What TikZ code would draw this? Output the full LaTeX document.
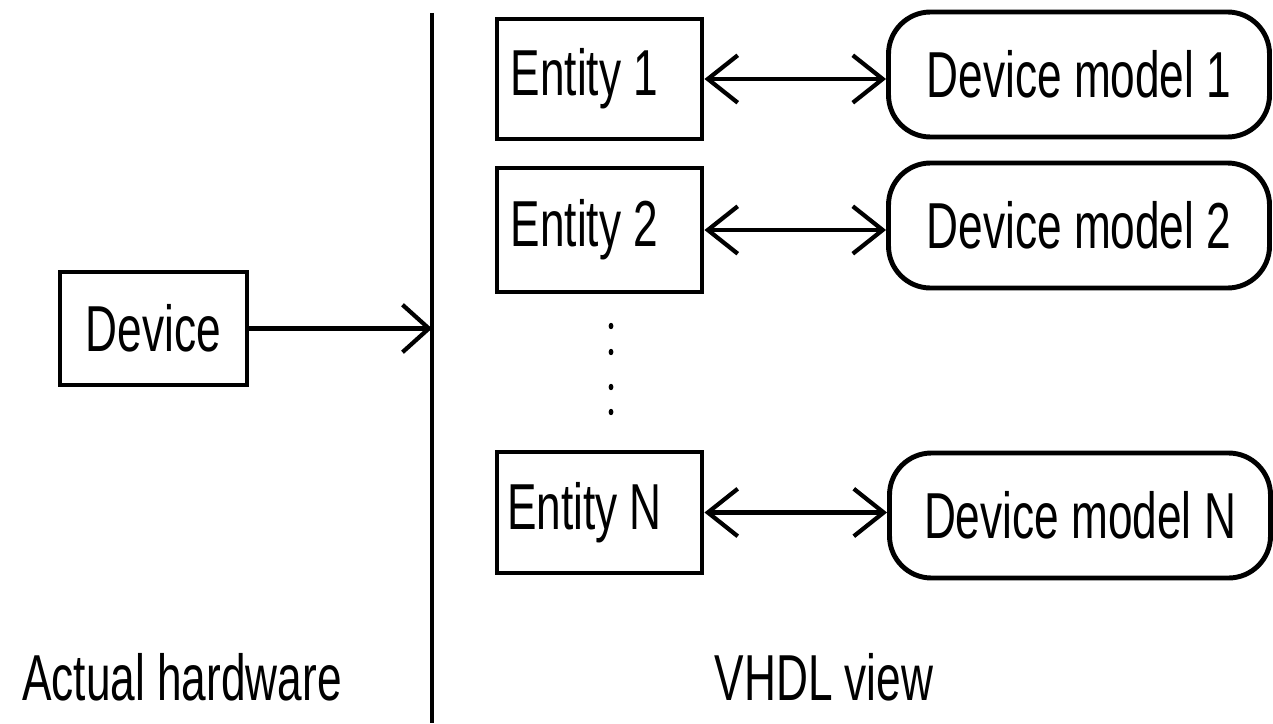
\documentclass[tikz,border=0pt]{standalone}
\usepackage{fontspec}
\setmainfont[FakeStretch=0.68]{Liberation Sans}
\usetikzlibrary{arrows.meta}
\begin{document}
\begin{tikzpicture}[x=0.02cm,y=-0.02cm,
  font=\fontsize{37pt}{44pt}\selectfont,
  box/.style={draw,line width=2.8pt,rectangle,inner sep=0pt},
  entbox/.style={box,minimum width=205*0.02cm},
  model/.style={draw,line width=2.8pt,rectangle,rounded corners=42*0.02cm,minimum width=381*0.02cm,minimum height=125*0.02cm,inner sep=0pt},
  link/.style={line width=2.8pt,{Straight Barb[length=17pt,width=27pt,line width=2.4pt]}-{Straight Barb[length=17pt,width=27pt,line width=2.4pt]}},
  oneway/.style={line width=2.6pt,-{Straight Barb[length=15pt,width=27pt,line width=2.4pt]}},
  lbl/.style={anchor=base,inner sep=0pt}]
\useasboundingbox (0,0) rectangle (1273,723);
% divider
\coordinate (divtop) at (432,13);
\coordinate (divbot) at (432,723);
\draw[line width=2.2pt] (divtop) -- (divbot);
% device
\node[box,minimum width=187*0.02cm,minimum height=113*0.02cm] (dev) at (153.5,328.5) {Device};
\draw[oneway] (dev.east) -- (dev.east -| divtop);
% entities
\node[entbox,minimum height=120*0.02cm] (e1) at (599.5,79) {Entity 1\hspace*{0.6cm}};
\node[entbox,minimum height=124*0.02cm] (e2) at (599.5,230) {Entity 2\hspace*{0.6cm}};
\node[entbox,minimum height=121*0.02cm] (eN) at (599.5,512.5) {Entity N\hspace*{0.6cm}};
% models
\node[model] (m1) at (1079,74.5) {Device model 1};
\node[model] (m2) at (1079,225.5) {Device model 2};
\node[model] (mN) at (1080,515.5) {Device model N};
% links
\draw[link] (e1.east) -- (e1.east -| m1.west);
\draw[link] (e2.east) -- (e2.east -| m2.west);
\draw[link] (eN.east) -- (eN.east -| mN.west);
% dots
\foreach \yy in {326,352,387,412} \fill (611,\yy) ellipse (2.4 and 3.2);
% labels
\node[lbl] (hw) at (182,700) {Actual hardware};
\node[lbl] (vh) at (824,700) {VHDL view};
\end{tikzpicture}
\end{document}
